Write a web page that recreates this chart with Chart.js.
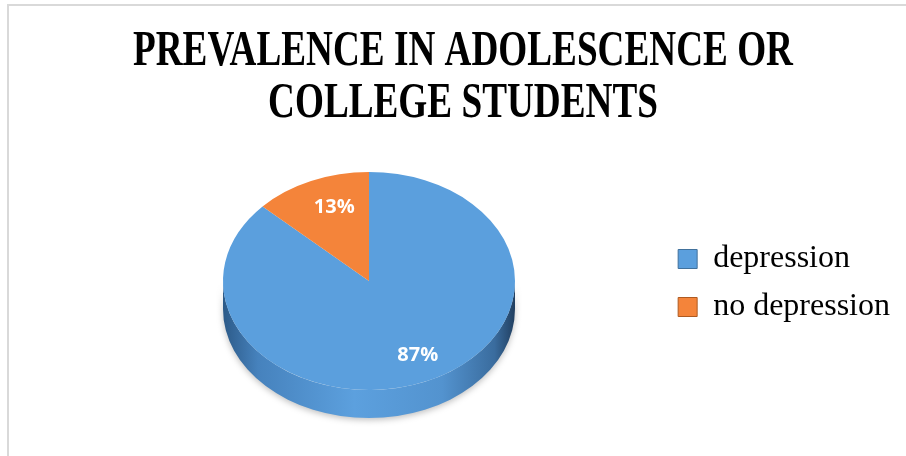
<!DOCTYPE html>
<html>
<head>
<meta charset="utf-8">
<script src="https://cdn.jsdelivr.net/npm/chart.js@4"></script>
<style>
  html, body { margin: 0; padding: 0; background: #fff; }
  #wrap { position: relative; width: 906px; height: 456px; }
</style>
</head>
<body>
<div id="wrap"><canvas id="pie-chart" width="906" height="456"></canvas></div>
<script>
var titleLines = ["PREVALENCE IN ADOLESCENCE OR", "COLLEGE STUDENTS"];
var categories = ["depression", "no depression"];
var shares = [87, 13];
var sliceColors = ["#5b9fdd", "#f4843a"];
var boxOutline = ["#41719c", "#ae5a21"];

// where the tilted top face sits on the page
var face = { cx: 369, cy: 281, rx: 146, ry: 109, depth: 28 };

var frameAndTitle = {
  id: "frameAndTitle",
  beforeDraw: function(chart) {
    var ctx = chart.ctx;
    ctx.save();
    ctx.fillStyle = "#fff";
    ctx.fillRect(0, 0, chart.width, chart.height);
    ctx.fillStyle = "#d9d9d9";
    ctx.fillRect(7, 4, chart.width - 7, 2);
    ctx.fillRect(7, 4, 2, chart.height - 4);

    // condensed bold serif title
    ctx.fillStyle = "#000";
    ctx.font = "bold 50px 'Liberation Serif'";
    ctx.textAlign = "center";
    ctx.textBaseline = "alphabetic";
    var squeeze = 660 / ctx.measureText(titleLines[0]).width;
    ctx.translate(463, 0);
    ctx.scale(squeeze, 1);
    ctx.fillText(titleLines[0], 0, 65);
    ctx.fillText(titleLines[1], 0, 117);
    ctx.restore();
  }
};

var pie3d = {
  id: "pie3d",
  beforeDatasetsDraw: function(chart) {
    var ctx = chart.ctx;
    var arc = chart.getDatasetMeta(0).data[0];

    // side wall of the disc
    ctx.save();
    var g = ctx.createLinearGradient(face.cx - face.rx, 0, face.cx + face.rx, 0);
    g.addColorStop(0, "#2c5a88");
    g.addColorStop(0.12, "#4682bd");
    g.addColorStop(0.45, "#5ca0de");
    g.addColorStop(0.75, "#5393cf");
    g.addColorStop(0.93, "#3a6c9e");
    g.addColorStop(1, "#213f60");
    ctx.fillStyle = g;
    ctx.shadowColor = "rgba(0,0,0,0.25)";
    ctx.shadowBlur = 6;
    ctx.shadowOffsetY = 2;
    ctx.beginPath();
    ctx.moveTo(face.cx + face.rx, face.cy);
    ctx.lineTo(face.cx + face.rx, face.cy + face.depth);
    ctx.ellipse(face.cx, face.cy + face.depth, face.rx, face.ry, 0, 0, Math.PI);
    ctx.lineTo(face.cx - face.rx, face.cy);
    ctx.ellipse(face.cx, face.cy, face.rx, face.ry, 0, Math.PI, 0, true);
    ctx.closePath();
    ctx.fill();
    ctx.restore();

    // squash the round pie into the tilted top face
    ctx.save();
    ctx.translate(face.cx, face.cy);
    ctx.scale(face.rx / arc.outerRadius, face.ry / arc.outerRadius);
    ctx.translate(-arc.x, -arc.y);
  },
  afterDatasetsDraw: function(chart) {
    var ctx = chart.ctx;
    ctx.restore();

    var total = shares.reduce(function(a, b) { return a + b; }, 0);
    ctx.save();
    ctx.fillStyle = "#fff";
    ctx.font = "bold 20px 'Open Sans'";
    ctx.textAlign = "center";
    ctx.textBaseline = "middle";
    chart.getDatasetMeta(0).data.forEach(function(a, i) {
      var mid = (a.startAngle + a.endAngle) / 2;
      var x = face.cx + Math.cos(mid) * face.rx * 0.72 + 7;
      var y = face.cy + Math.sin(mid) * face.ry * 0.74;
      ctx.fillText(Math.round(shares[i] / total * 100) + "%", x, y);
    });
    ctx.restore();
  }
};

new Chart(document.getElementById("pie-chart"), {
  type: "pie",
  data: {
    labels: categories,
    datasets: [{
      data: shares,
      backgroundColor: sliceColors,
      borderColor: boxOutline,
      borderWidth: 0
    }]
  },
  options: {
    responsive: false,
    animation: false,
    layout: { padding: { left: 20, top: 110, right: 6, bottom: 0 } },
    plugins: {
      title: { display: false },
      tooltip: { enabled: false },
      legend: {
        position: "right",
        labels: {
          color: "#000",
          font: { family: "'Liberation Serif'", size: 32 },
          boxWidth: 19,
          boxHeight: 19,
          padding: 16,
          generateLabels: function(chart) {
            var items = Chart.overrides.pie.plugins.legend.labels.generateLabels(chart);
            items.forEach(function(item, i) {
              item.lineWidth = 1;
              item.strokeStyle = boxOutline[i];
            });
            return items;
          }
        }
      }
    }
  },
  plugins: [frameAndTitle, pie3d]
});
</script>
</body>
</html>
